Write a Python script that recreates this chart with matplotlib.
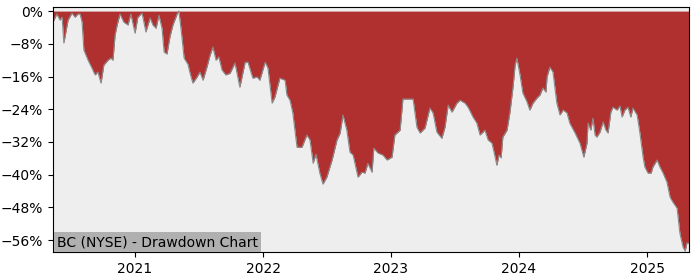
import numpy as np
import pandas as pd
import matplotlib
matplotlib.use('Agg')
import matplotlib.pyplot as plt
import matplotlib.dates as mdates
from matplotlib.ticker import FuncFormatter

# drawdown series (date, drawdown in %)
dates = ['2020-05-12', '2020-05-23', '2020-06-01', '2020-06-07', '2020-06-12', '2020-06-24',
         '2020-07-05', '2020-07-14', '2020-07-22', '2020-07-28', '2020-08-03', '2020-08-08',
         '2020-08-20', '2020-08-31', '2020-09-09', '2020-09-17', '2020-09-26', '2020-10-04',
         '2020-10-16', '2020-10-24', '2020-10-30', '2020-11-05', '2020-11-11', '2020-11-19',
         '2020-11-30', '2020-12-12', '2020-12-20', '2021-01-01', '2021-01-09', '2021-01-21',
         '2021-02-01', '2021-02-13', '2021-02-21', '2021-03-02', '2021-03-10', '2021-03-19',
         '2021-03-25', '2021-04-02', '2021-04-11', '2021-04-19', '2021-05-01', '2021-05-06',
         '2021-05-12', '2021-05-21', '2021-06-01', '2021-06-07', '2021-06-15', '2021-06-27',
         '2021-07-05', '2021-07-14', '2021-07-25', '2021-08-03', '2021-08-11', '2021-08-20',
         '2021-08-28', '2021-09-06', '2021-09-17', '2021-09-29', '2021-10-13', '2021-10-27',
         '2021-11-11', '2021-11-19', '2021-12-03', '2021-12-15', '2021-12-23', '2022-01-07',
         '2022-01-15', '2022-01-27', '2022-02-04', '2022-02-18', '2022-03-05', '2022-03-10',
         '2022-03-19', '2022-03-27', '2022-04-08', '2022-04-22', '2022-05-06', '2022-05-15',
         '2022-05-24', '2022-06-01', '2022-06-12', '2022-06-21', '2022-07-02', '2022-07-17',
         '2022-07-31', '2022-08-09', '2022-08-17', '2022-08-28', '2022-09-06', '2022-09-15',
         '2022-09-29', '2022-10-10', '2022-10-19', '2022-10-27', '2022-11-08', '2022-11-13',
         '2022-11-25', '2022-12-09', '2022-12-21', '2023-01-04', '2023-01-12', '2023-01-27',
         '2023-02-04', '2023-03-05', '2023-03-16', '2023-03-25', '2023-04-08', '2023-04-22',
         '2023-05-01', '2023-05-12', '2023-05-26', '2023-06-04', '2023-06-13', '2023-06-24',
         '2023-07-08', '2023-07-17', '2023-07-31', '2023-08-09', '2023-08-23', '2023-09-03',
         '2023-09-12', '2023-09-26', '2023-10-05', '2023-10-16', '2023-10-22', '2023-10-30',
         '2023-11-05', '2023-11-11', '2023-11-16', '2023-11-28', '2023-12-06', '2023-12-15',
         '2023-12-21', '2023-12-26', '2024-01-04', '2024-01-12', '2024-01-24', '2024-02-01',
         '2024-02-10', '2024-02-21', '2024-03-01', '2024-03-09', '2024-03-18', '2024-03-21',
         '2024-03-29', '2024-04-07', '2024-04-18', '2024-04-27', '2024-05-06', '2024-05-17',
         '2024-05-25', '2024-06-09', '2024-06-23', '2024-07-04', '2024-07-13', '2024-07-16',
         '2024-07-24', '2024-07-30', '2024-08-05', '2024-08-10', '2024-08-19', '2024-08-28',
         '2024-09-05', '2024-09-11', '2024-09-19', '2024-09-25', '2024-10-07', '2024-10-15',
         '2024-10-21', '2024-10-29', '2024-11-07', '2024-11-15', '2024-11-21', '2024-12-03',
         '2024-12-11', '2024-12-20', '2024-12-25', '2025-01-03', '2025-01-12', '2025-01-17',
         '2025-01-29', '2025-02-06', '2025-02-15', '2025-02-26', '2025-03-07', '2025-03-15',
         '2025-03-27', '2025-04-04', '2025-04-13', '2025-04-19', '2025-04-24', '2025-04-30']

drawdown = [-2.7, -0.7, -2.2, -1.5, -7.8, -2.2,
            -0.5, -1.5, -0.7, -0.7, -2.7, -9.5,
            -12.0, -13.9, -15.6, -14.9, -17.6, -13.2,
            -12.0, -11.5, -12.0, -5.9, -3.4, -0.7,
            -2.7, -3.4, -0.7, -5.4, -1.5, -0.5,
            -5.1, -1.7, -3.4, -4.2, -1.0, -4.2,
            -10.0, -10.5, -6.1, -3.4, -0.7, 0.0,
            -4.2, -11.5, -13.0, -15.2, -17.6, -16.1,
            -14.9, -16.9, -13.7, -10.8, -8.8, -12.0,
            -11.2, -14.4, -15.6, -15.2, -12.7, -18.6,
            -12.5, -12.5, -16.4, -16.1, -16.9, -12.5,
            -13.9, -22.5, -21.0, -16.4, -16.9, -20.5,
            -21.8, -24.9, -33.3, -33.3, -30.3, -31.5,
            -37.2, -35.0, -39.6, -42.3, -40.6, -36.4,
            -31.5, -29.8, -25.4, -29.1, -34.5, -35.2,
            -40.6, -39.4, -39.6, -37.2, -39.4, -33.5,
            -34.7, -35.2, -36.4, -35.7, -30.3, -29.1,
            -21.5, -21.5, -28.4, -29.8, -28.6, -23.7,
            -24.9, -29.6, -31.1, -28.4, -23.0, -24.7,
            -22.5, -21.8, -22.5, -23.5, -25.9, -27.4,
            -30.3, -29.1, -31.5, -32.3, -34.5, -37.7,
            -35.2, -35.9, -30.8, -29.1, -24.9, -18.6,
            -13.2, -11.5, -15.6, -20.0, -22.2, -24.2,
            -22.5, -21.3, -20.5, -18.8, -19.8, -16.1,
            -13.7, -14.9, -22.5, -25.4, -24.2, -24.9,
            -27.4, -29.8, -32.3, -35.7, -32.3, -27.4,
            -29.1, -26.2, -30.3, -30.8, -29.6, -27.1,
            -29.1, -29.8, -24.7, -23.5, -24.2, -23.2,
            -25.9, -24.2, -23.5, -25.9, -23.7, -25.4,
            -29.8, -35.7, -38.1, -39.6, -39.6, -38.1,
            -36.4, -38.1, -39.6, -41.8, -45.5, -46.7,
            -48.2, -54.3, -57.7, -58.7, -56.7, -56.7]

ytick_values = [0, -8, -16, -24, -32, -40, -48, -56]
label = 'BC (NYSE) - Drawdown Chart'

x = pd.to_datetime(dates)
dd = np.array(drawdown)

fig = plt.figure(figsize=(7, 2.8), dpi=100)
ax = fig.add_axes([0.0757, 0.1, 0.9086, 0.875])
ax.set_facecolor('#eeeeee')

ax.fill_between(x, dd, 0, color='#b03030', linewidth=0)
ax.plot(x, dd, color='#8a8a8a', linewidth=0.8)

ax.set_xlim(x[0], x[-1])
ax.set_ylim(-58.9, 1.0)
ax.set_yticks(ytick_values)
ax.yaxis.set_major_formatter(FuncFormatter(lambda v, p: ('%d%%' % round(v)).replace('-', '\u2212')))
ax.xaxis.set_major_locator(mdates.YearLocator())
ax.xaxis.set_major_formatter(mdates.DateFormatter('%Y'))

ax.text(0.006, 0.012, label, transform=ax.transAxes, fontsize=10,
        ha='left', va='bottom',
        bbox=dict(facecolor='#b0b0b0', edgecolor='none', pad=2.2))

fig.savefig('out.png', dpi=100)
